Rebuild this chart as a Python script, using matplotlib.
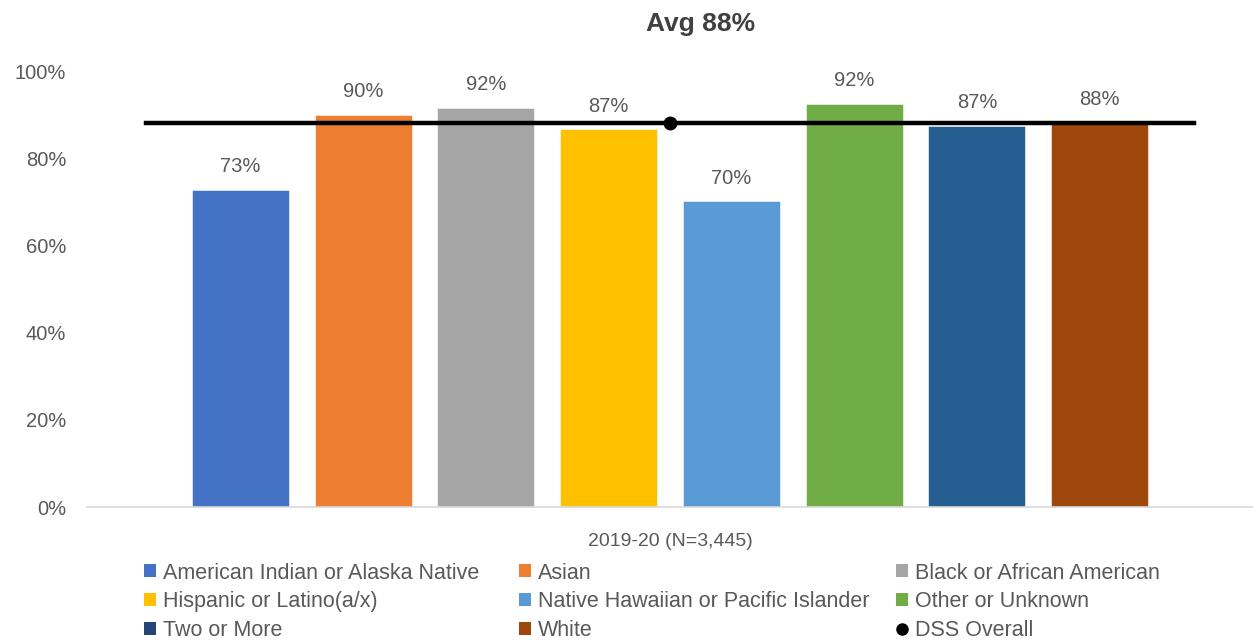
import matplotlib
matplotlib.use('Agg')
import matplotlib.pyplot as plt
from matplotlib.patches import Patch
from matplotlib.lines import Line2D

# 2019-20 rates by race/ethnicity
groups = ['American Indian or Alaska Native', 'Asian', 'Black or African American',
          'Hispanic or Latino(a/x)', 'Native Hawaiian or Pacific Islander', 'Other or Unknown',
          'Two or More', 'White']
rates = [72.7, 89.9, 91.6, 86.6, 70.1, 92.4, 87.4, 88.0]
overall = 88.1
bar_colors = ['#4472C4', '#ED7D31', '#A5A5A5', '#FFC000', '#5B9BD5', '#70AD47', '#255E91', '#9E480E']
legend_colors = ['#4472C4', '#ED7D31', '#A5A5A5', '#FFC000', '#5B9BD5', '#70AD47', '#264478', '#9E480E']
x_title = '2019-20 (N=3,445)'
y_ticks = [0, 20, 40, 60, 80, 100]

plt.rcParams['font.family'] = ['Liberation Sans', 'DejaVu Sans']
grey = '#595959'

fig = plt.figure(figsize=(12.53, 6.4), dpi=100)
ax = fig.add_axes([0.0694, 0.2078, 0.9306, 0.6812])

x = [i - (len(rates) - 1) / 2 for i in range(len(rates))]
bars = ax.bar(x, rates, width=0.79, color=bar_colors, edgecolor='white', linewidth=0.4, zorder=2)
for b, v in zip(bars, rates):
    ax.annotate('{:.0f}%'.format(v), (b.get_x() + b.get_width() / 2, v),
                xytext=(0, 10), textcoords='offset points', ha='center', va='bottom',
                fontsize=14.5, color=grey)

# overall average line with the point at the centre
ax.plot([-4.27, 4.27], [overall, overall], color='black', linewidth=3.2, zorder=3)
ax.plot([0], [overall], 'o', color='black', markersize=9, zorder=4)

ax.set_xlim(-4.75, 4.75)
ax.set_ylim(0, 100)
ax.set_yticks(y_ticks)
ax.set_yticklabels(['{}%'.format(t) for t in y_ticks])
ax.set_xticks([])
ax.tick_params(axis='y', length=0, labelsize=14.5, labelcolor=grey, pad=15)
for side in ['top', 'right', 'left']:
    ax.spines[side].set_visible(False)
ax.spines['bottom'].set_color('#D9D9D9')
ax.spines['bottom'].set_linewidth(1.2)
ax.set_xlabel(x_title, fontsize=14, color=grey, labelpad=19)

fig.text(0.559, 0.962, 'Avg 88%', ha='center', va='center', fontsize=19, fontweight='bold', color='#404040')

# legend laid out row by row in three columns
handles = [Patch(facecolor=c, label=g) for c, g in zip(legend_colors, groups)]
handles.append(Line2D([], [], marker='o', linestyle='none', color='black', markersize=8, label='DSS Overall'))
col_x = [0.115, 0.414, 0.715]
for c in range(3):
    fig.legend(handles=handles[c::3], loc='upper left', bbox_to_anchor=(col_x[c], 0.121),
               frameon=False, fontsize=15.5, labelcolor=grey, handlelength=0.55, handleheight=0.55,
               handletextpad=0.35, labelspacing=0.36, borderaxespad=0, borderpad=0)

fig.savefig('out.png', dpi=100)
